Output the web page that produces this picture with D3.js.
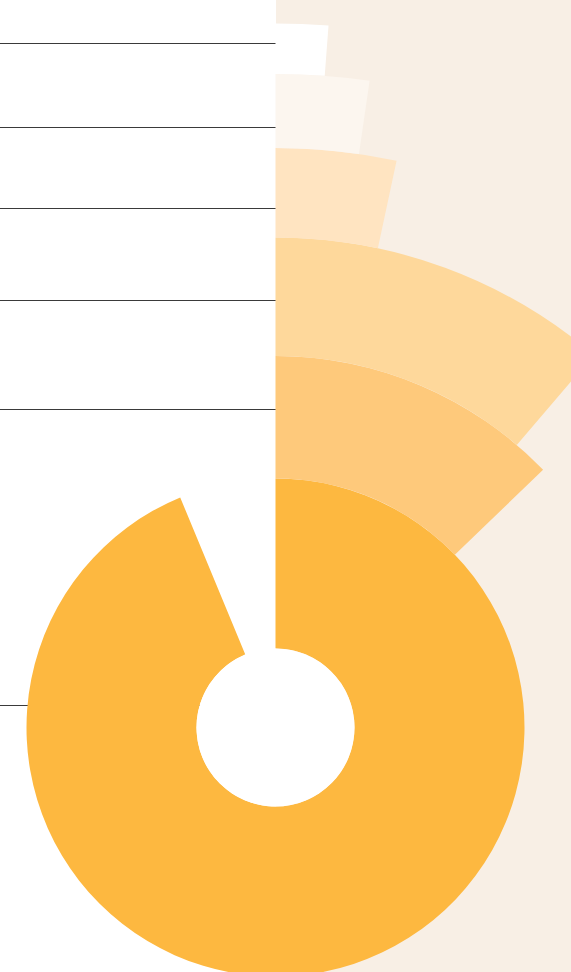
<!DOCTYPE html>
<html>
<head>
<meta charset="utf-8">
<script src="https://cdn.jsdelivr.net/npm/d3@7"></script>
<style>
  html, body { margin: 0; padding: 0; background: #ffffff; }
  svg { display: block; }
</style>
</head>
<body>
<div id="chart"></div>
<script>
// ---- data ----
const categories = ["Cat 1", "Cat 2", "Cat 3", "Cat 4", "Cat 5", "Cat 6"];
// share of full circle (%) swept by each ring
const shares = [93.75, 12.8, 11.25, 3.35, 2.3, 1.2];
// ring thickness (data units), innermost first
const thickness = [170, 122.5, 118.5, 89.5, 74, 50.5];
const holeSize = 79;
// label guide positions (data units from centre)
const guideLevels = [684, 600, 519, 427, 318, 22];
const colors = ["#fdb840", "#fec97b", "#fed89b", "#ffe4c1", "#fcf6ef", "#ffffff"];

// ---- layout ----
const W = 571, H = 972;
const cx = 275.5, cy = 727.5;
const panelX = 276;
const maxR = cy - 23.5;

const svg = d3.select("#chart").append("svg")
  .attr("width", W).attr("height", H);

// beige panel on right half
svg.append("rect")
  .attr("x", panelX).attr("y", 0)
  .attr("width", W - panelX).attr("height", H)
  .attr("fill", "#f8efe5");

const total = holeSize + d3.sum(thickness);
const r = d3.scaleLinear().domain([0, total]).range([0, maxR]);
const angle = d3.scaleLinear().domain([0, 100]).range([0, 2 * Math.PI]);

let acc = holeSize;
const rings = categories.map((c, i) => {
  const inner = acc;
  acc += thickness[i];
  return { cat: c, share: shares[i], inner, outer: acc, color: colors[i] };
});

// guide lines
svg.append("g").selectAll("line").data(guideLevels).join("line")
  .attr("x1", 0).attr("x2", panelX)
  .attr("y1", d => Math.floor(cy - r(d)) + 0.5)
  .attr("y2", d => Math.floor(cy - r(d)) + 0.5)
  .attr("stroke", "#3a3a3a").attr("stroke-width", 1);

const arc = d3.arc()
  .innerRadius(d => r(d.inner))
  .outerRadius(d => r(d.outer))
  .startAngle(0)
  .endAngle(d => angle(d.share));

const g = svg.append("g").attr("transform", `translate(${cx},${cy})`);

g.selectAll("path").data(rings).join("path")
  .attr("d", arc)
  .attr("fill", d => d.color);

// centre hole
g.append("circle")
  .attr("r", r(holeSize))
  .attr("fill", "#ffffff");
</script>
</body>
</html>
